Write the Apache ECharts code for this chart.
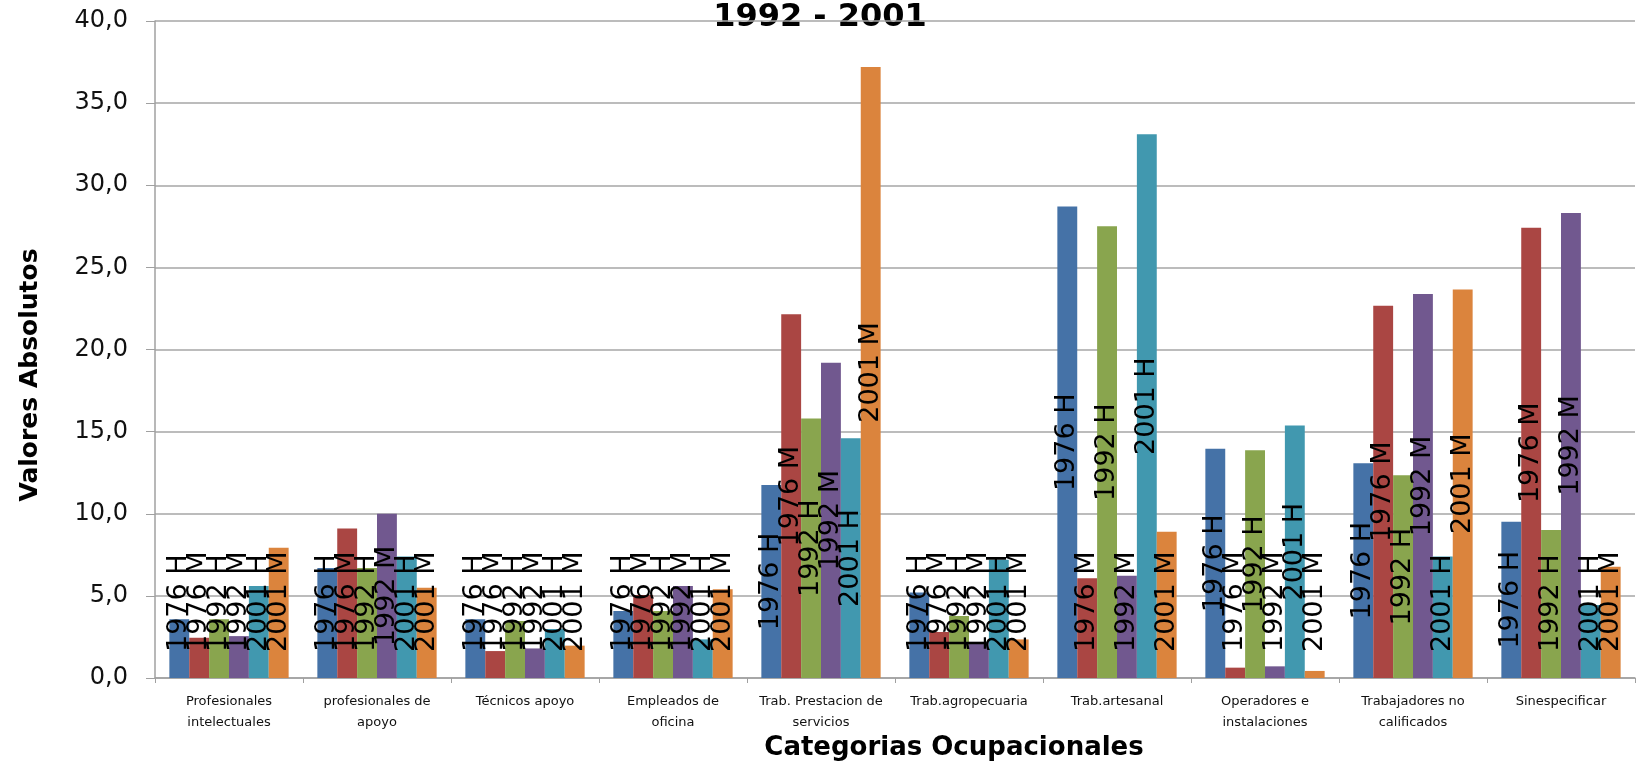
<!DOCTYPE html>
<html>
<head>
<meta charset="utf-8">
<script src="https://cdn.jsdelivr.net/npm/echarts@6/dist/echarts.min.js"></script>
<style>
  html, body { margin: 0; padding: 0; background: #fff; }
  #chart { width: 1639px; height: 767px; }
</style>
</head>
<body>
<div id="chart"></div>
<script>
const categorias = [
  'Profesionales\nintelectuales', 'profesionales de\napoyo', 'Técnicos apoyo',
  'Empleados de\noficina', 'Trab. Prestacion de\nservicios', 'Trab.agropecuaria',
  'Trab.artesanal', 'Operadores e\ninstalaciones', 'Trabajadores no\ncalificados',
  'Sinespecificar'
];
const seriesNames = ['1976 H', '1976 M', '1992 H', '1992 M', '2001 H', '2001 M'];
const h1976 = [3.57, 6.7, 3.57, 4.08, 11.75, 5.2, 28.7, 13.96, 13.07, 9.52];
const m1976 = [2.45, 9.1, 1.64, 5.05, 22.14, 2.8, 6.07, 0.63, 22.67, 27.42];
const h1992 = [3.57, 6.7, 3.47, 4.08, 15.8, 3.77, 27.5, 13.86, 12.34, 9.01];
const m1992 = [2.55, 10.0, 1.8, 5.6, 19.2, 2.2, 6.23, 0.71, 23.38, 28.31];
const h2001 = [5.6, 7.4, 2.98, 2.35, 14.6, 7.2, 33.1, 15.38, 7.39, 4.44];
const m2001 = [7.93, 5.5, 1.97, 5.4, 37.2, 2.35, 8.9, 0.43, 23.66, 6.78];

const valores = [h1976, m1976, h1992, m1992, h2001, m2001];
const colores = ['#4572A7', '#AA4643', '#89A54E', '#71588F', '#4198AF', '#DB843D'];

// bars too short to hold the centred label get it pinned above the axis
const corto = 9.25;

let chart = echarts.init(document.getElementById('chart'));

const baseLabel = {
  show: true,
  rotate: 90,
  formatter: '{a}',
  color: '#000',
  fontFamily: 'DejaVu Sans',
  fontSize: 27
};

const option = {
  animation: false,
  color: colores,
  grid: { left: 155, right: 4, top: 21, bottom: 89 },
  graphic: [
    {
      type: 'text', x: 820, y: 18,
      style: { text: '1992 - 2001', fill: '#000', align: 'center', verticalAlign: 'middle',
               font: 'bold 32px "DejaVu Sans"' }
    },
    {
      type: 'text', x: 954, y: 748,
      style: { text: 'Categorias Ocupacionales', fill: '#000', align: 'center', verticalAlign: 'middle',
               font: 'bold 26px "DejaVu Sans"' }
    },
    {
      type: 'text', x: 30, y: 375, rotation: Math.PI / 2,
      style: { text: 'Valores Absolutos', fill: '#000', align: 'center', verticalAlign: 'middle',
               font: 'bold 25px "DejaVu Sans"' }
    }
  ],
  xAxis: {
    type: 'category',
    data: categorias,
    axisLine: { lineStyle: { color: '#a0a0a0', width: 1.5 } },
    axisTick: { show: true, length: 5, lineStyle: { color: '#a0a0a0' } },
    axisLabel: {
      interval: 0, margin: 13, color: '#111', fontFamily: 'DejaVu Sans',
      fontSize: 13, lineHeight: 21
    }
  },
  yAxis: {
    type: 'value',
    min: 0, max: 40, interval: 5,
    axisLine: { show: true, lineStyle: { color: '#a0a0a0', width: 1.5 } },
    axisTick: { show: true, length: 9, lineStyle: { color: '#a0a0a0' } },
    splitLine: { lineStyle: { color: '#a6a6a6', width: 1.5 } },
    axisLabel: {
      margin: 27, color: '#111', fontFamily: 'DejaVu Sans', fontSize: 24,
      formatter: v => v.toFixed(1).replace('.', ',')
    }
  },
  series: seriesNames.map((name, i) => ({
    name: name,
    type: 'bar',
    barGap: '0%',
    barCategoryGap: '19.4%',
    label: Object.assign({ position: 'inside', align: 'center', verticalAlign: 'middle' }, baseLabel),
    data: valores[i].map(v => v < corto
      ? { value: v, label: { position: 'insideBottom', distance: 26, align: 'left', verticalAlign: 'middle' } }
      : v)
  }))
};

chart.setOption(option);
</script>
</body>
</html>
